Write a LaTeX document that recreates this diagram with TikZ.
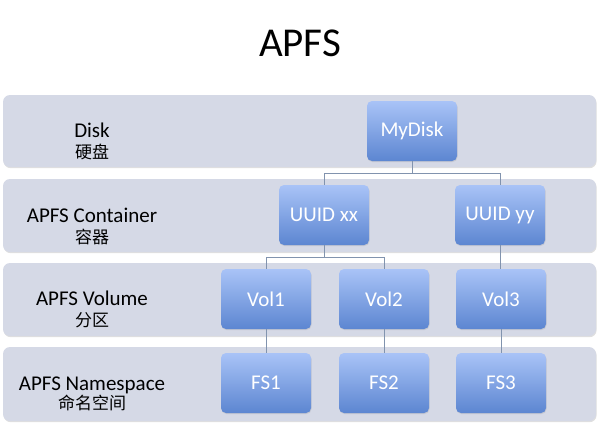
\documentclass[tikz,border=0pt]{standalone}
\usepackage{fontspec}
\setmainfont{Carlito}
\newfontfamily\cjk{Noto Sans CJK SC}
\usepackage{tikz}
\usetikzlibrary{shadows}

\definecolor{bandfill}{HTML}{D5D9E6}
\definecolor{boxtop}{HTML}{A9C3F7}
\definecolor{boxbot}{HTML}{5C86D1}
\definecolor{linkcol}{HTML}{8193AE}

\begin{document}
\begin{tikzpicture}[x=1pt,y=-1pt,
    band/.style={rounded corners=7pt, fill=bandfill, minimum width=593pt,
      drop shadow={shadow xshift=0.6pt, shadow yshift=-1.2pt, opacity=.25}},
    link/.style={draw=linkcol, line width=.9pt}]

        \useasboundingbox (0,0) rectangle (600,424);

        \node[font=\fontsize{41}{45}\selectfont] (title) at (300,43) {APFS};

        % layers
        \node[band, minimum height=72pt] (b1) at (299.5,131)   {};
        \node[band, minimum height=73pt] (b2) at (299.5,215.5) {};
        \node[band, minimum height=73pt] (b3) at (299.5,299.5) {};
        \node[band, minimum height=74pt] (b4) at (299.5,384)   {};

        \begin{scope}[every node/.style={anchor=base, font=\fontsize{21}{24}\selectfont}]
          \node (l1) at (92,137)   {Disk};
          \node (l2) at (92,222)   {APFS Container};
          \node (l3) at (92,305.5) {APFS Volume};
          \node (l4) at (92,390)   {APFS Namespace};
        \end{scope}

        \begin{scope}[every node/.style={anchor=base, font=\cjk\fontsize{17}{20}\selectfont}]
          \node (c1) at (92,158) {硬盘};
          \node (c2) at (92,243) {容器};
          \node (c3) at (92,326) {分区};
          \node (c4) at (92,409) {命名空间};
        \end{scope}

        \begin{scope}[every node/.style={rounded corners=5pt, top color=boxtop,
            bottom color=boxbot, minimum width=90pt, minimum height=60pt,
            text=white, font=\fontsize{21}{24}\selectfont,
            drop shadow={shadow xshift=0.5pt, shadow yshift=-1pt, opacity=.2}}]
          \node (mydisk) at (412,131) {MyDisk};
          \node (uuidx)  at (324,215) {UUID xx};
          \node (uuidy)  at (500,215) {UUID yy};
          \node (vol1)   at (266,299) {Vol1};
          \node (vol2)   at (384,299) {Vol2};
          \node (vol3)   at (501,299) {Vol3};
          \node (fs1)    at (266,383) {FS1};
          \node (fs2)    at (384,383) {FS2};
          \node (fs3)    at (501,383) {FS3};
        \end{scope}

        \coordinate (s1) at (412,173);
        \coordinate (s2) at (324,257);

        \begin{scope}[every path/.style={link}]
          \path (mydisk.south) -- (s1);
          \path (s1) -| (uuidx.north);
          \path (s1) -| (uuidy.north);
          \path (uuidx.south) -- (s2);
          \path (s2) -| (vol1.north);
          \path (s2) -| (vol2.north);
          \path (uuidy.south) -- (uuidy.south |- vol3.north);
          \path (vol1) -- (fs1);
          \path (vol2) -- (fs2);
          \path (vol3) -- (fs3);
        \end{scope}

      \end{tikzpicture}
\end{document}
